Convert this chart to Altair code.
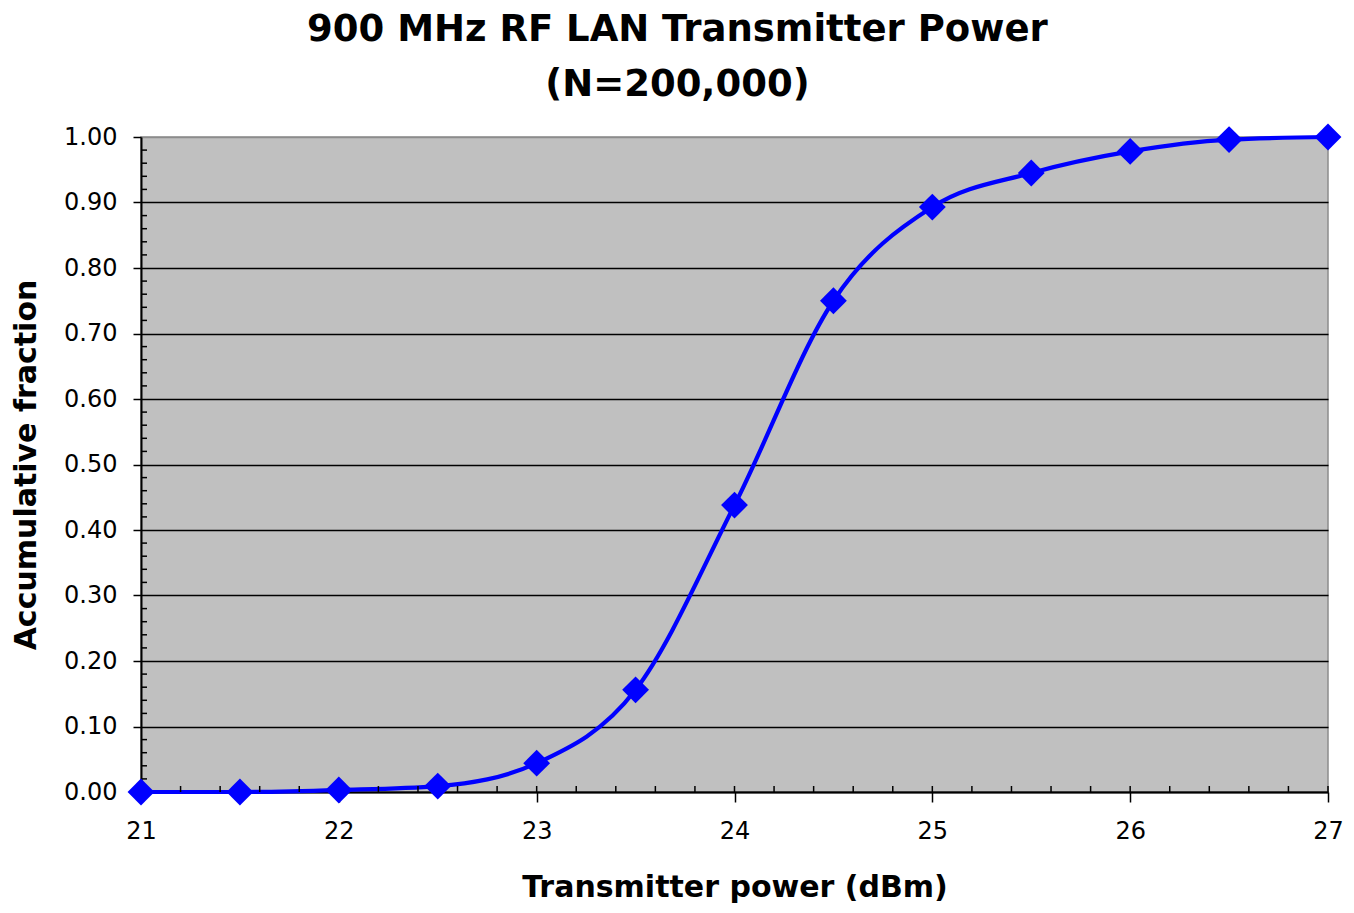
import altair as alt
import pandas as pd

# Data
POWER = [21, 21.5, 22, 22.5, 23, 23.5, 24, 24.5, 25, 25.5, 26, 26.5, 27]
FRACTION = [0.000, 0.000, 0.003, 0.009, 0.044, 0.156, 0.438, 0.750, 0.893, 0.945, 0.978, 0.996, 1.000]

X_TICKS = [21, 22, 23, 24, 25, 26, 27]
Y_TICKS = [0.0, 0.1, 0.2, 0.3, 0.4, 0.5, 0.6, 0.7, 0.8, 0.9, 1.0]
X_MINOR = [round(21 + 0.2 * i, 2) for i in range(31)]
Y_MINOR = [round(0.02 * i, 2) for i in range(51) if i % 5]

W, H = 1187, 655
FONT = "DejaVu Sans"

df = pd.DataFrame({"power": POWER, "fraction": FRACTION})
xminor = pd.DataFrame({"v": X_MINOR})
yminor = pd.DataFrame({"v": Y_MINOR})

xs = alt.Scale(domain=[21, 27], nice=False, zero=False)
ys = alt.Scale(domain=[0, 1], nice=False, zero=True)

x_axis = alt.Axis(
    values=X_TICKS, format="d", title="Transmitter power (dBm)", grid=False,
    tickSize=10, tickColor="black", tickWidth=1.5, domainColor="black", domainWidth=2,
    labelFont=FONT, labelFontSize=24, labelColor="black", labelPadding=17,
    labelFlush=False, labelOverlap=False,
    titleFont=FONT, titleFontSize=30, titleFontWeight="bold", titleColor="black",
    titlePadding=29,
)
y_axis = alt.Axis(
    values=Y_TICKS, format=".2f", title="Accumulative fraction",
    grid=True,
    gridColor={"condition": {"test": "datum.value >= 0.999", "value": "#8c8c8c"}, "value": "#000000"},
    gridWidth=1.5,
    tickSize=8, tickColor="black", tickWidth=1.5, domainColor="black", domainWidth=2,
    labelFont=FONT, labelFontSize=24, labelColor="black", labelPadding=16,
    labelFlush=False, labelOverlap=False,
    titleFont=FONT, titleFontSize=30, titleFontWeight="bold", titleColor="black",
    titlePadding=22,
)

line = alt.Chart(df).mark_line(
    color="#0000ff", strokeWidth=4.2, interpolate="monotone"
).encode(
    x=alt.X("power:Q", scale=xs, axis=x_axis),
    y=alt.Y("fraction:Q", scale=ys, axis=y_axis),
)

points = alt.Chart(df).mark_point(
    shape="diamond", filled=True, color="#0000ff", size=720, opacity=1
).encode(
    x=alt.X("power:Q", scale=xs, axis=x_axis),
    y=alt.Y("fraction:Q", scale=ys, axis=y_axis),
)

xmin_ticks = alt.Chart(xminor).mark_rule(color="black", strokeWidth=1.5).encode(
    x=alt.X("v:Q", scale=xs, axis=x_axis),
    y=alt.value(H - 6),
    y2=alt.value(H),
)

ymin_ticks = alt.Chart(yminor).mark_rule(color="black", strokeWidth=1.5).encode(
    y=alt.Y("v:Q", scale=ys, axis=y_axis),
    x=alt.value(0),
    x2=alt.value(6),
)

chart = alt.layer(line, xmin_ticks, ymin_ticks, points).properties(
    width=W,
    height=H,
    title=alt.TitleParams(
        text=["900 MHz RF LAN Transmitter Power", "(N=200,000)"],
        font=FONT, fontSize=37, fontWeight="bold", color="black",
        anchor="middle", frame="bounds", offset=20, lineHeight=55,
    ),
    autosize=alt.AutoSizeParams(type="none"),
    padding={"left": 133, "top": 129, "right": 18, "bottom": 112},
    background="white",
).resolve_axis(x="shared", y="shared").configure_view(
    fill="#c0c0c0", stroke="#8c8c8c", strokeWidth=1.5
)

chart.save("out.html", embed_options={"renderer": "svg", "actions": False})
